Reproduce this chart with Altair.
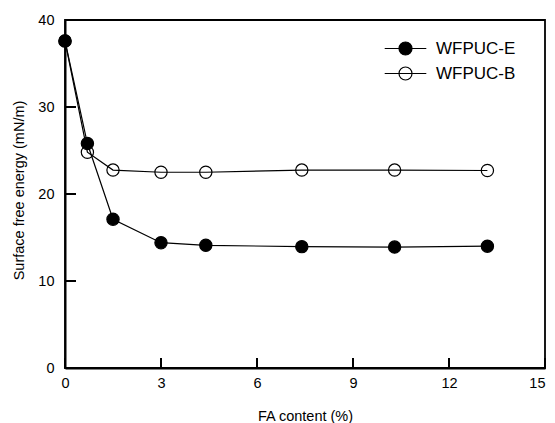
import altair as alt
import pandas as pd

# Data
x_vals = [0, 0.7, 1.5, 3.0, 4.4, 7.4, 10.3, 13.2]
e_vals = [37.6, 25.8, 17.1, 14.4, 14.1, 13.95, 13.9, 14.0]
b_vals = [37.6, 24.8, 22.75, 22.5, 22.5, 22.75, 22.75, 22.7]
series_names = ["WFPUC-E", "WFPUC-B"]
x_ticks = [0, 3, 6, 9, 12, 15]
y_ticks = [0, 10, 20, 30, 40]

rows = []
for xv, ev in zip(x_vals, e_vals):
    rows.append({"x": xv, "y": ev, "series": series_names[0]})
for xv, bv in zip(x_vals, b_vals):
    rows.append({"x": xv, "y": bv, "series": series_names[1]})
df = pd.DataFrame(rows)
df_xt = pd.DataFrame({"x": x_ticks})
df_yt = pd.DataFrame({"y": y_ticks})

FONT = "Liberation Sans"
W, H = 480, 348

xscale = alt.Scale(domain=[0, 15], nice=False, zero=False)
yscale = alt.Scale(domain=[0, 40], nice=False, zero=False)

xaxis = alt.Axis(values=x_ticks, title="FA content (%)", ticks=False, grid=False,
                 labelPadding=8, labelFontSize=14.5, titleFontSize=14.5, labelFlush=False,
                 labelAlign=alt.ExprRef(expr="datum.value >= 15 ? 'right' : 'center'"),
                 titleFontWeight="normal", titleY=52, titleBaseline="alphabetic",
                 domainWidth=2, domainColor="black", labelColor="black", titleColor="black")
yaxis = alt.Axis(values=y_ticks, title="Surface free energy (mN/m)", ticks=False, grid=False,
                 labelPadding=11, labelFontSize=14.5, titleFontSize=14.5, labelFlush=False,
                 titleFontWeight="normal", titleX=-46, titleY=170, titleBaseline="middle",
                 titleAngle=270,
                 domainWidth=2, domainColor="black", labelColor="black", titleColor="black")

base = alt.Chart(df)

lines = base.mark_line(color="black", strokeWidth=1.2).encode(
    x=alt.X("x:Q", scale=xscale, axis=xaxis),
    y=alt.Y("y:Q", scale=yscale, axis=yaxis),
    detail="series:N",
)

legend_path = "M-3.2,0L3.2,0M1,0A1,1,0,1,1,-1,0A1,1,0,1,1,1,0Z"
points = base.mark_point(shape="circle", size=150, stroke="black", strokeWidth=1.2,
                         opacity=1, filled=True).encode(
    x=alt.X("x:Q", scale=xscale, axis=xaxis),
    y=alt.Y("y:Q", scale=yscale, axis=yaxis),
    fill=alt.Fill("series:N",
                  scale=alt.Scale(domain=series_names, range=["black", "transparent"]),
                  legend=alt.Legend(title=None, orient="none", legendX=332, legendY=20,
                                    symbolType=legend_path, symbolSize=169,
                                    symbolStrokeColor="black", symbolStrokeWidth=1.2,
                                    labelFont=FONT, labelFontSize=17, labelColor="black",
                                    labelOffset=22, rowPadding=6, padding=0)),
)

xt = alt.Chart(df_xt).mark_rule(color="black", strokeWidth=2).encode(
    x=alt.X("x:Q", scale=xscale, axis=xaxis),
    y=alt.value(H), y2=alt.value(H - 10),
)
yt = alt.Chart(df_yt).mark_rule(color="black", strokeWidth=2).encode(
    y=alt.Y("y:Q", scale=yscale, axis=yaxis),
    x=alt.value(0), x2=alt.value(11),
)

chart = alt.layer(lines, points, xt, yt).properties(
    width=W, height=H,
    autosize=alt.AutoSizeParams(type="none"),
    padding={"left": 57, "top": 12, "right": 2, "bottom": 55},
).configure_view(
    stroke="black", strokeWidth=1.8,
).configure_axis(
    labelFont=FONT, titleFont=FONT, labelColor="black", titleColor="black",
    domainColor="black",
)

chart.save("out.html", embed_options={"renderer": "svg", "actions": False})
